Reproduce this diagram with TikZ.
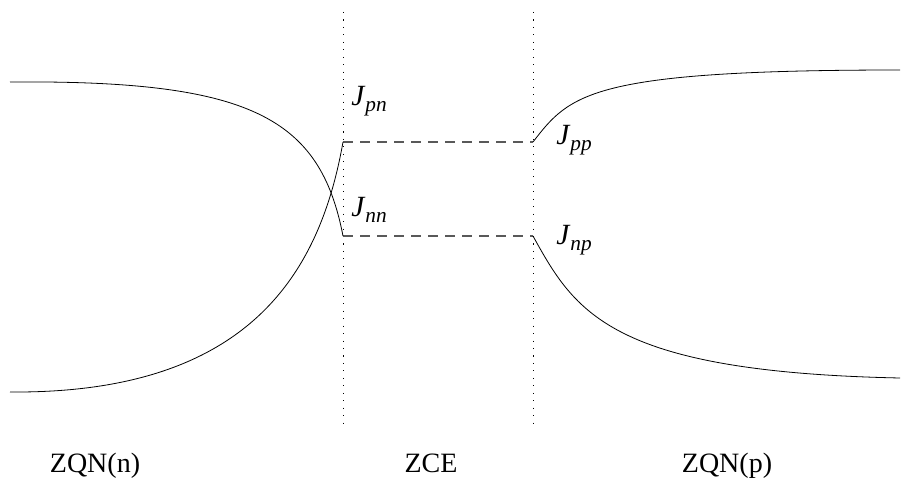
\documentclass[tikz,border=0pt]{standalone}
\usepackage{fontspec}
\setmainfont{Liberation Serif}
\newcommand{\jlab}[1]{\fontsize{22}{24}\selectfont\textit{J}\raisebox{-4.5pt}{\fontsize{16}{18}\selectfont\textit{#1}}}

\begin{document}
\begin{tikzpicture}[
    x=0.75pt, y=0.75pt,
    curve/.style={line width=0.6pt},
    border/.style={line width=0.6pt, dash pattern=on 0.8pt off 4.8pt},
    level/.style={line width=0.8pt, draw=black!65, dash pattern=on 7.5pt off 5.25pt},
    jlabel/.style={anchor=base west, inner sep=0pt},
    zone/.style={anchor=base, inner sep=0pt, font=\fontsize{21}{24}\selectfont},
  ]
  \useasboundingbox (0,0) rectangle (903,482);

  % zone borders
  \coordinate (bnTop) at (343,470); \coordinate (bnBot) at (343,55);
  \coordinate (bpTop) at (533,470); \coordinate (bpBot) at (533,55);
  \draw[border] (bnTop) -- (bnBot);
  \draw[border] (bpTop) -- (bpBot);

  % current levels at the edges of the ZCE
  \coordinate (pnL) at (343,340); \coordinate (ppR) at (533,340);
  \coordinate (nnL) at (343,246); \coordinate (npR) at (533,246);
  \draw[level] (pnL) -- (ppR);
  \draw[level] (nnL) -- (npR);

  % currents in ZQN(n)
  \draw[curve] (10,400) .. controls (250,402) and (320,365) .. (nnL);
  \draw[curve] (10,90) .. controls (250,88) and (320,210) .. (pnL);
  % currents in ZQN(p)
  \draw[curve] (ppR) .. controls (570,388) and (590,412) .. (900,412);
  \draw[curve] (npR) .. controls (575,170) and (610,110) .. (900,104);

  \node[jlabel] (jpn) at (351,376) {\jlab{pn}};
  \node[jlabel] (jnn) at (351,265) {\jlab{nn}};
  \node[jlabel] (jpp) at (556,337) {\jlab{pp}};
  \node[jlabel] (jnp) at (556,237) {\jlab{np}};

  \node[zone] (zqnn) at (95,10) {ZQN(n)};
  \node[zone] (zce) at (431,10) {ZCE};
  \node[zone] (zqnp) at (727,10) {ZQN(p)};
\end{tikzpicture}
\end{document}
